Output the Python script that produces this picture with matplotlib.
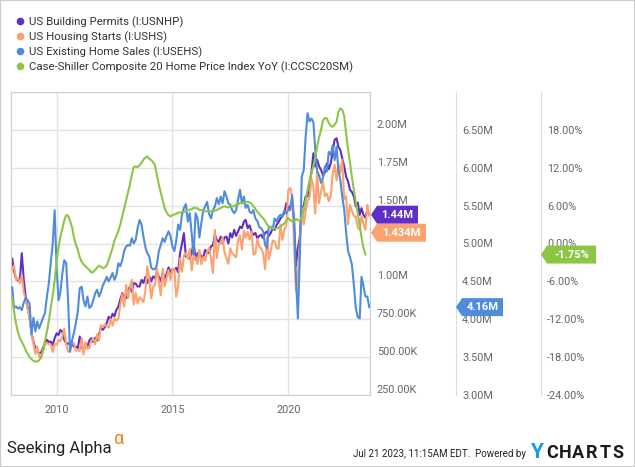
import matplotlib
matplotlib.use("Agg")
import matplotlib.pyplot as plt
import pandas as pd
from matplotlib.lines import Line2D
from matplotlib.patches import Polygon, Rectangle

plt.rcParams["font.family"] = ["Roboto", "DejaVu Sans"]

# monthly data, Jan 2008 onwards
permits = [  # thousands, SAAR
    1150, 1065, 1020, 1005, 1010, 1186, 1010, 899, 830, 760, 660, 600,
    560, 540, 525, 530, 560, 590, 614, 600, 603, 580, 625, 657,
    646, 679, 668, 614, 592, 590, 580, 585, 570, 569, 560, 636,
    569, 540, 580, 570, 610, 625, 600, 628, 610, 650, 694, 680,
    700, 725, 766, 750, 786, 770, 812, 833, 880, 922, 900, 889,
    942, 966, 930, 988, 985, 966, 966, 1010, 990, 1030, 988, 1032,
    1000, 1032, 1020, 1065, 1030, 1000, 1060, 1010, 1050, 1092, 1060, 1081,
    1076, 1090, 1060, 1186, 1250, 1318, 1164, 1170, 1150, 1186, 1260, 1142,
    1186, 1190, 1164, 1160, 1208, 1186, 1190, 1230, 1240, 1307, 1274, 1260,
    1296, 1252, 1290, 1296, 1250, 1318, 1290, 1340, 1300, 1329, 1362, 1351,
    1395, 1406, 1351, 1370, 1329, 1307, 1320, 1285, 1300, 1307, 1285, 1320,
    1329, 1300, 1320, 1351, 1340, 1373, 1390, 1417, 1430, 1450, 1516, 1480,
    1494, 1527, 1406, 1100, 1220, 1290, 1480, 1500, 1560, 1560, 1650, 1720,
    1846, 1758, 1802, 1760, 1736, 1700, 1720, 1780, 1740, 1780, 1857, 1934,
    1945, 1890, 1868, 1813, 1760, 1692, 1660, 1604, 1590, 1560, 1494, 1520,
    1439, 1483, 1439, 1420, 1472, 1440,
]
starts = [  # thousands, SAAR
    1075, 1105, 1010, 1021, 988, 1040, 930, 877, 820, 760, 660, 590,
    520, 570, 505, 490, 545, 580, 594, 586, 585, 534, 588, 581,
    614, 604, 636, 687, 583, 536, 546, 599, 594, 543, 545, 539,
    625, 517, 600, 554, 561, 608, 623, 585, 650, 610, 711, 697,
    717, 704, 695, 753, 708, 757, 740, 754, 847, 915, 833, 976,
    888, 962, 1010, 847, 925, 853, 895, 882, 862, 939, 1099, 1015,
    888, 962, 975, 1088, 1000, 910, 1084, 968, 1024, 1074, 1010, 1083,
    1082, 900, 963, 1152, 1064, 1171, 1187, 1148, 1214, 1072, 1176, 1156,
    1114, 1208, 1113, 1160, 1136, 1195, 1223, 1150, 1054, 1340, 1153, 1245,
    1253, 1290, 1192, 1154, 1116, 1219, 1185, 1172, 1159, 1265, 1303, 1210,
    1334, 1290, 1327, 1276, 1329, 1177, 1184, 1280, 1229, 1217, 1187, 1081,
    1291, 1145, 1203, 1270, 1264, 1220, 1215, 1375, 1274, 1340, 1370, 1599,
    1617, 1567, 1269, 934, 1038, 1265, 1487, 1376, 1459, 1530, 1551, 1680,
    1625, 1447, 1725, 1514, 1594, 1657, 1562, 1580, 1530, 1563, 1703, 1768,
    1666, 1777, 1716, 1803, 1543, 1561, 1377, 1505, 1463, 1432, 1427, 1357,
    1340, 1432, 1380, 1340, 1505, 1434,
]
existing = [  # millions, SAAR
    4.42, 4.15, 4.17, 4.14, 4.16, 4.12, 4.22, 4.28, 4.25, 4.21, 3.80, 4.02,
    3.84, 3.97, 3.88, 3.95, 4.02, 4.08, 4.30, 4.48, 4.75, 5.00, 5.44, 4.69,
    4.25, 4.35, 4.60, 4.78, 4.74, 4.25, 3.57, 3.72, 3.82, 3.95, 4.10, 4.41,
    4.43, 4.25, 4.17, 4.30, 4.15, 4.17, 4.25, 4.34, 4.39, 4.30, 4.36, 4.45,
    4.50, 4.56, 4.50, 4.55, 4.61, 4.52, 4.58, 4.74, 4.70, 4.78, 4.90, 4.96,
    4.98, 4.97, 5.07, 5.00, 5.05, 5.20, 5.31, 5.25, 5.09, 4.95, 4.87, 4.83,
    4.68, 4.66, 4.66, 4.72, 4.90, 4.98, 5.07, 5.02, 5.10, 5.16, 5.10, 4.96,
    4.90, 5.03, 5.25, 5.18, 5.38, 5.47, 5.52, 5.29, 5.40, 5.13, 4.85, 5.40,
    5.33, 5.08, 5.27, 5.44, 5.49, 5.55, 5.39, 5.33, 5.44, 5.49, 5.60, 5.52,
    5.62, 5.53, 5.69, 5.62, 5.53, 5.51, 5.44, 5.40, 5.44, 5.58, 5.71, 5.53,
    5.62, 5.47, 5.51, 5.42, 5.40, 5.44, 5.33, 5.30, 5.22, 5.20, 5.16, 4.98,
    4.94, 5.22, 5.22, 5.19, 5.33, 5.29, 5.35, 5.38, 5.36, 5.44, 5.40, 5.44,
    5.44, 5.64, 5.31, 4.56, 4.01, 4.80, 5.88, 5.97, 6.40, 6.72, 6.61, 6.65,
    6.60, 6.24, 5.95, 5.90, 5.80, 5.86, 6.02, 5.95, 6.21, 6.17, 6.30, 6.10,
    6.28, 5.97, 5.84, 5.62, 5.45, 5.15, 4.90, 4.82, 4.72, 4.45, 4.15, 4.03,
    4.01, 4.56, 4.44, 4.30, 4.30, 4.16,
]
case_shiller = [  # % YoY, ends Apr 2023
    -8.5, -10.8, -12.7, -14.0, -15.0, -15.6, -16.2, -16.9, -17.5, -18.0, -18.3, -18.6,
    -18.7, -18.7, -18.5, -17.9, -17.0, -15.4, -14.0, -12.2, -10.2, -8.2, -5.9, -2.8,
    -0.6, 1.0, 2.3, 3.6, 4.5, 4.4, 3.6, 2.6, 1.0, -0.2, -1.0, -2.2,
    -2.9, -3.3, -3.6, -3.9, -4.2, -4.6, -4.5, -4.2, -3.8, -3.5, -3.7, -3.9,
    -3.8, -3.5, -2.6, -1.7, -0.7, 0.5, 1.2, 2.0, 3.0, 4.3, 5.5, 6.8,
    8.1, 9.3, 10.9, 12.1, 12.2, 12.1, 12.4, 12.8, 13.3, 13.6, 13.8, 13.4,
    13.2, 12.9, 12.4, 10.8, 9.3, 8.1, 6.8, 5.6, 4.9, 4.5, 4.3, 4.5,
    4.6, 4.7, 4.9, 4.9, 5.0, 5.0, 5.1, 5.2, 5.4, 5.4, 5.7, 5.6,
    5.6, 5.3, 5.3, 5.2, 5.1, 5.1, 5.1, 5.1, 5.2, 5.2, 5.3, 5.5,
    5.6, 5.8, 5.9, 5.8, 5.7, 5.8, 5.9, 5.9, 6.1, 6.2, 6.4, 6.4,
    6.4, 6.6, 6.6, 6.5, 6.3, 5.9, 5.5, 5.0, 4.7, 4.3, 4.0, 3.6,
    3.0, 2.7, 2.5, 2.4, 2.4, 2.4, 2.5, 2.7, 2.9, 3.2, 3.6, 4.0,
    3.7, 3.5, 3.5, 3.9, 3.7, 3.6, 4.2, 5.2, 6.9, 8.5, 9.9, 11.1,
    12.3, 13.6, 15.4, 16.8, 18.0, 19.5, 19.9, 19.8, 19.1, 18.6, 18.5, 18.8,
    19.3, 20.8, 21.4, 21.2, 20.2, 17.5, 14.9, 12.8, 10.5, 8.5, 6.6, 4.8,
    2.9, 1.0, -0.7, -1.75,
]

legend_labels = [
    "US Building Permits (I:USNHP)",
    "US Housing Starts (I:USHS)",
    "US Existing Home Sales (I:USEHS)",
    "Case-Shiller Composite 20 Home Price Index YoY (I:CCSC20SM)",
]
left_ticks = [250, 500, 750, 1000, 1250, 1500, 1750, 2000, 2250]
left_labels = ["250.00K", "500.00K", "750.00K", "1.00M", "1.25M", "1.50M",
               "1.75M", "2.00M", ""]
ehs_ticks = [3.0, 3.5, 4.0, 4.5, 5.0, 5.5, 6.0, 6.5]
ehs_labels = ["3.00M", "3.50M", "4.00M", "4.50M", "5.00M", "5.50M", "6.00M", "6.50M"]
cs_ticks = [-24, -18, -12, -6, 0, 6, 12, 18]
cs_labels = ["-24.00%", "-18.00%", "-12.00%", "-6.00%", "0.00%", "6.00%",
             "12.00%", "18.00%"]
year_ticks = [2010, 2015, 2020]

PURPLE = "#5f2fc6"
ORANGE = "#fca26f"
BLUE = "#4f8ddb"
GREEN = "#8cc645"
GRID = "#e3e3e3"
BORDER = "#cccccc"
TICK = "#666666"

W, H = 635, 467
fig = plt.figure(figsize=(W / 100, H / 100), dpi=100)


def fx(px):
    return px / W


def fy(py):
    return 1 - py / H


L, R, T, B = 11, 370, 92, 395
ax = fig.add_axes([fx(L), fy(B), (R - L) / W, (B - T) / H])

dates = pd.date_range("2008-01-31", periods=len(permits), freq="ME")

ax.plot(dates, permits, color=PURPLE, lw=1.5)
ax.plot(dates, starts, color=ORANGE, lw=1.5)

axe = ax.twinx()
axe.plot(dates, existing, color=BLUE, lw=1.5)
axc = ax.twinx()
axc.plot(dates[:len(case_shiller)], case_shiller, color=GREEN, lw=1.5)

ax.set_xlim(pd.Timestamp("2008-01-12"), pd.Timestamp("2023-07-12"))
ax.set_xticks([pd.Timestamp(f"{y}-01-01") for y in year_ticks],
              [str(y) for y in year_ticks])
ax.tick_params(axis="x", length=0, pad=7, labelsize=7.8, labelcolor=TICK)

ax.set_ylim(250, 2250)
ax.yaxis.tick_right()
ax.set_yticks(left_ticks, left_labels, va="bottom")
ax.tick_params(axis="y", length=0, pad=5, labelsize=7.8, labelcolor=TICK)
ax.grid(True, color=GRID, lw=1)
ax.set_axisbelow(True)
for s in ax.spines.values():
    s.set_color(BORDER)

for a, ticks, labels, pos in [(axe, ehs_ticks, ehs_labels, (456 - L) / (R - L)),
                              (axc, cs_ticks, cs_labels, (541 - L) / (R - L))]:
    a.set_yticks(ticks, labels, va="bottom")
    a.tick_params(axis="y", length=0, pad=4.3, labelsize=7.8, labelcolor=TICK)
    for side in ["left", "top", "bottom"]:
        a.spines[side].set_visible(False)
    a.spines["right"].set_position(("axes", pos))
    a.spines["right"].set_color("#dddddd")
axe.set_ylim(3.0, 7.0)
axc.set_ylim(-24, 24)


# value tags at the end of each series
def tag(y_img, x_left, width, text, color):
    h = 9
    pts = [(x_left, y_img), (x_left + 6, y_img - h), (x_left + width, y_img - h),
           (x_left + width, y_img + h), (x_left + 6, y_img + h)]
    pts = [(fx(x), fy(y)) for x, y in pts]
    fig.add_artist(Polygon(pts, closed=True, transform=fig.transFigure,
                           facecolor=color, edgecolor="none", zorder=5))
    fig.text(fx((x_left + 6 + x_left + width) / 2), fy(y_img), text,
             ha="center", va="center", color="white", fontsize=8,
             fontweight="bold", zorder=6)


def y_of(a, v):
    return H - a.transData.transform((0, v))[1]


yp = y_of(ax, permits[-1])
ys = max(y_of(ax, starts[-1]), yp + 18)
tag(yp, 371, 47, "1.44M", PURPLE)
tag(ys, 371, 55, "1.434M", ORANGE)
tag(y_of(axe, existing[-1]), 456, 47, "4.16M", BLUE)
tag(y_of(axc, case_shiller[-1]), 541, 55, "-1.75%", GREEN)

# legend
handles = [Line2D([], [], marker="o", ls="none", color=c, markersize=4.5)
           for c in [PURPLE, ORANGE, BLUE, GREEN]]
fig.legend(handles, legend_labels, loc="upper left",
           bbox_to_anchor=(fx(15.4), fy(16.4)), frameon=False, fontsize=8.2,
           handlelength=0.8, handletextpad=0.4, labelspacing=0.3,
           borderpad=0, borderaxespad=0, labelcolor="#333333")

# footer
fig.text(fx(7), fy(449), "Seeking Alpha", fontsize=12, color="#222222",
         ha="left", va="center")
fig.text(fx(113), fy(439), "\u03b1", fontsize=13, color="#f5821f",
         ha="left", va="center")
fig.text(fx(526), fy(454), "Jul 21 2023, 11:15AM EDT.  Powered by",
         fontsize=7, color="#222222", ha="right", va="center")
fig.text(fx(536), fy(453), "Y", fontsize=15, fontweight="bold",
         color="#1a9ae6", ha="center", va="center")
for i, ch in enumerate("CHARTS"):
    fig.text(fx(552 + 13.2 * i), fy(453), ch, fontsize=13, fontweight="bold",
             color="#1c1c1c", ha="center", va="center")

fig.add_artist(Rectangle((0, 0), 1, 1, transform=fig.transFigure, fill=False,
                         edgecolor=BORDER, lw=1.5))

fig.savefig("out.png", dpi=100)
